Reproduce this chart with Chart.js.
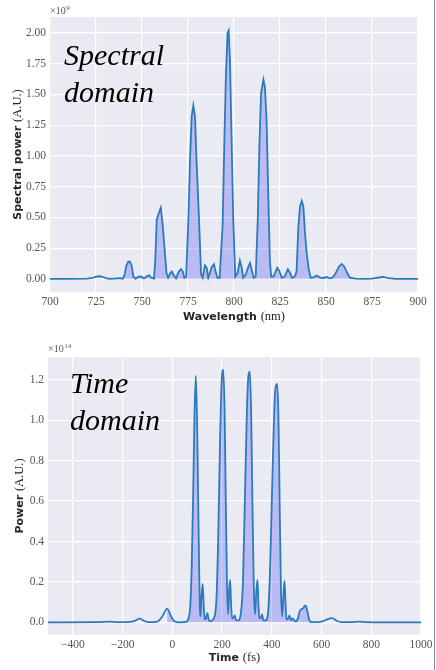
<!DOCTYPE html>
<html>
<head>
<meta charset="utf-8">
<script src="https://cdn.jsdelivr.net/npm/chart.js@4.4.1/dist/chart.umd.min.js"></script>
<style>
  body { margin: 0; background: #fff; width: 436px; height: 670px; position: relative; overflow: hidden; }
  canvas { position: absolute; left: 0; }
  .tag { position: absolute; font: italic 30px "Liberation Serif", serif; line-height: 37px; color: #000; white-space: nowrap; }
  .edge { position: absolute; left: 434px; top: 0; width: 1px; height: 670px; background: #7f8daa; }
</style>
</head>
<body>
<canvas id="spec" width="436" height="330" style="top:0;width:436px;height:330px"></canvas>
<canvas id="time" width="436" height="340" style="top:330px;width:436px;height:340px"></canvas>
<div class="tag" style="left:64px;top:36px">Spectral<br>domain</div>
<div class="tag" style="left:70px;top:364px">Time<br>domain</div>
<div class="edge"></div>
<script>
// Spectral domain: wavelength (nm) vs power (x 1e9 A.U.)
const wavelength = [
  700, 710, 720, 723, 725, 727, 729, 731, 733, 736, 738, 739.5,
  740.5, 741.5, 742.5, 743.5, 744.5, 745.3, 746.5, 748, 749.5, 751, 753, 754, 755, 756.5,
  757.2, 758, 759, 760.2, 761.3, 762.3, 763.3, 764.2, 765.5, 766.2, 767.3, 768.5,
  770, 771.2, 772.2, 773, 774, 775.2, 776.1, 777, 777.9, 778.8, 779.7, 781, 782.1,
  783, 784.2, 785.2, 786, 788, 789.1, 790, 791, 792.2,
  793.8, 794.7, 795.6, 796.5, 797.1, 797.8, 798.7, 799.6, 800.7,
  802, 803.2, 804.1, 805, 806.5, 807.8, 808.7, 809.7, 810.7, 811.8,
  812.9, 813.8, 814.7, 816, 816.8, 817.7, 818.6, 819.5, 820.2,
  821.5, 823.5, 824.5, 826, 827.5, 829.3, 830.5, 831.5, 833, 834,
  835, 835.9, 836.8, 837.7, 838.6, 839.5, 840.6, 841.7,
  843, 845, 847, 848.5, 850.4, 852, 853.5, 855, 857, 858.5, 860, 861.5, 863,
  866, 870, 875, 878, 881, 884, 888, 900
];
const spectralPower = [
  0, 0, 0.002, 0.008, 0.018, 0.022, 0.015, 0.004, 0.001, 0.004, 0.006, 0.002,
  0.03, 0.11, 0.14, 0.14, 0.1, 0.02, 0.002, 0.018, 0.02, 0.004, 0.025, 0.03, 0.01, 0.003,
  0.15, 0.48, 0.53, 0.58, 0.43, 0.24, 0.05, 0.01, 0.05, 0.06, 0.03, 0.005,
  0.06, 0.08, 0.06, 0.01, 0.02, 0.48, 0.97, 1.32, 1.41, 1.32, 0.94, 0.48, 0.04,
  0.01, 0.11, 0.09, 0.01, 0.1, 0.12, 0.06, 0.01, 0.01,
  0.43, 1.08, 1.65, 2.0, 2.02, 1.78, 1.13, 0.48, 0.02,
  0.05, 0.15, 0.1, 0.01, 0.04, 0.1, 0.13, 0.07, 0.01, 0.02,
  0.48, 1.08, 1.51, 1.62, 1.56, 1.29, 0.7, 0.15, 0.02,
  0.02, 0.09, 0.07, 0.01, 0.02, 0.08, 0.05, 0.01, 0.02, 0.06,
  0.43, 0.59, 0.635, 0.59, 0.37, 0.21, 0.08, 0.01,
  0.012, 0.027, 0.01, 0.008, 0.016, 0.005, 0.01, 0.04, 0.1, 0.122, 0.1, 0.05, 0.01,
  0.002, 0.001, 0.002, 0.01, 0.016, 0.006, 0.001, 0
];
const specFillRange = [738, 866];

// Time domain: time (fs) vs power (x 1e14 A.U.)
const timeFs = [
  -500, -300, -250, -220, -170, -150, -131, -115, -95, -60, -40, -21, -5, 10, 30,
  55, 65, 72, 78, 84, 89, 94.5, 100, 104, 108, 111, 113, 117, 122, 126, 130, 135, 141, 146, 152,
  160, 170, 178, 185, 192, 198, 204.5, 210, 215, 220, 224.5, 228.5, 232.5, 236, 240, 245, 251, 256,
  265, 275, 284, 292, 300, 306, 311.8, 317, 322, 328, 333, 338, 342.7, 346, 350, 355, 361, 366,
  375, 385, 394, 403, 410, 415, 421.8, 427, 432, 437, 442, 447, 451, 455, 459, 464, 471, 477, 484, 490, 496,
  505, 512, 518, 526, 532, 536, 542, 550, 560, 600, 625, 643, 660, 680, 720, 750, 780, 850, 1000
];
const timePower = [
  0, 0.001, 0.004, 0.001, 0.002, 0.008, 0.018, 0.008, 0.001, 0.004, 0.03, 0.068, 0.03, 0.004, 0,
  0.002, 0.02, 0.08, 0.28, 0.65, 1.02, 1.22, 0.95, 0.6, 0.25, 0.06, 0.03, 0.12, 0.19, 0.09, 0.015, 0.02, 0.045, 0.015, 0.005,
  0.01, 0.03, 0.13, 0.45, 0.9, 1.18, 1.25, 1.06, 0.6, 0.18, 0.04, 0.16, 0.21, 0.1, 0.02, 0.02, 0.035, 0.01,
  0.01, 0.04, 0.2, 0.62, 1.05, 1.22, 1.24, 1.03, 0.6, 0.15, 0.04, 0.16, 0.21, 0.1, 0.02, 0.02, 0.04, 0.01,
  0.01, 0.05, 0.3, 0.75, 1.05, 1.16, 1.18, 1.0, 0.55, 0.15, 0.03, 0.14, 0.205, 0.1, 0.015, 0.015, 0.035, 0.01, 0.02, 0.01, 0.005,
  0.02, 0.055, 0.064, 0.07, 0.08, 0.084, 0.06, 0.015, 0.001, 0.004, 0.016, 0.021, 0.008, 0.001, 0.001, 0.004, 0.001, 0, 0
];
const timeFillRange = [-30, 570];

const LINE = '#2b7bba';
const FILL = 'rgba(0, 0, 255, 0.2)';
const TICK_FONT = { family: '"Liberation Serif", serif', size: 11.5 };

const plotBg = {
    id: 'plotBg',
    beforeDraw(chart) {
        const { ctx, chartArea: a } = chart;
        ctx.save();
        ctx.fillStyle = '#eaeaf2';
        ctx.fillRect(a.left, a.top, a.width, a.height);
        ctx.restore();
    }
};

function drawParts(ctx, parts, cx, cy) {
    let total = 0;
    parts.forEach(p => { ctx.font = p.f; total += ctx.measureText(p.t).width; });
    let x = cx - total / 2;
    parts.forEach(p => {
        ctx.font = p.f;
        ctx.fillText(p.t, x, cy);
        x += ctx.measureText(p.t).width;
    });
}

// axis titles mix a bold sans word with a serif unit, plus the x10^n offset
const axisText = {
    id: 'axisText',
    afterDraw(chart, args, o) {
        const { ctx, chartArea: a } = chart;
        ctx.save();
        ctx.fillStyle = '#262626';
        ctx.textBaseline = 'middle';
        drawParts(ctx, o.x, (a.left + a.right) / 2, o.xTitleY);
        ctx.save();
        ctx.translate(o.yTitleX, (a.top + a.bottom) / 2);
        ctx.rotate(-Math.PI / 2);
        drawParts(ctx, o.y, 0, 0);
        ctx.restore();
        ctx.textBaseline = 'alphabetic';
        ctx.fillStyle = '#555';
        ctx.font = '10px "Liberation Serif", serif';
        ctx.fillText('\u00d710', a.left, o.expY);
        const w = ctx.measureText('\u00d710').width;
        ctx.font = '7px "Liberation Serif", serif';
        ctx.fillText(o.exp, a.left + w + 0.5, o.expY - 4);
        ctx.restore();
    }
};

function xAxis(min, max, step, height) {
    return {
        type: 'linear', min: min, max: max,
        border: { display: false },
        grid: { color: '#ffffff', lineWidth: 1.2, drawTicks: false },
        ticks: {
            stepSize: step, includeBounds: false, autoSkip: false, maxRotation: 0, padding: 3,
            font: TICK_FONT, color: '#555',
            callback: v => String(v).replace('-', '\u2212')
        },
        afterFit(s) { s.height = height; }
    };
}

function yAxis(min, max, step, decimals, width) {
    return {
        type: 'linear', min: min, max: max,
        border: { display: false },
        grid: { color: '#ffffff', lineWidth: 1.2, drawTicks: false },
        ticks: {
            stepSize: step, includeBounds: false, padding: 4,
            font: TICK_FONT, color: '#555',
            callback: v => v.toFixed(decimals)
        },
        afterFit(s) { s.width = width; }
    };
}

function makeChart(id, xs, ys, fillRange, curve, cfg) {
    const points = xs.map((x, i) => ({ x: x, y: ys[i] }));
    const filled = points.filter(p => p.x >= fillRange[0] && p.x <= fillRange[1]);
    const lineStyle = curve === 'smooth'
        ? { cubicInterpolationMode: 'monotone' }
        : { tension: 0 };
    return new Chart(document.getElementById(id), {
        type: 'line',
        data: {
            datasets: [
                Object.assign({
                    data: points, borderColor: LINE, borderWidth: 1.8,
                    pointRadius: 0, fill: false
                }, lineStyle),
                Object.assign({
                    data: filled, borderWidth: 0, pointRadius: 0,
                    backgroundColor: FILL, fill: 'origin'
                }, lineStyle)
            ]
        },
        options: {
            responsive: false,
            animation: false,
            devicePixelRatio: 1,
            layout: { padding: cfg.padding },
            plugins: {
                legend: { display: false },
                tooltip: { enabled: false },
                axisText: cfg.text
            },
            scales: { x: cfg.x, y: cfg.y }
        },
        plugins: [plotBg, axisText]
    });
}

makeChart('spec', wavelength, spectralPower, specFillRange, 'straight', {
    padding: { left: 0, right: 18, top: 17, bottom: 0 },
    x: xAxis(700, 900, 25, 38),
    y: yAxis(-0.106, 2.13, 0.25, 2, 50),
    text: {
        x: [{ t: 'Wavelength ', f: 'bold 11px "DejaVu Sans", sans-serif' },
            { t: '(nm)', f: '12.5px "Liberation Serif", serif' }],
        y: [{ t: 'Spectral power ', f: 'bold 11px "DejaVu Sans", sans-serif' },
            { t: '(A.U.)', f: '12.5px "Liberation Serif", serif' }],
        xTitleY: 317, yTitleX: 18, expY: 14, exp: '9'
    }
});

makeChart('time', timeFs, timePower, timeFillRange, 'smooth', {
    padding: { left: 0, right: 15, top: 27, bottom: 0 },
    x: xAxis(-500, 1000, 200, 35),
    y: yAxis(-0.0625, 1.3125, 0.2, 1, 48),
    text: {
        x: [{ t: 'Time ', f: 'bold 11px "DejaVu Sans", sans-serif' },
            { t: '(fs)', f: '12.5px "Liberation Serif", serif' }],
        y: [{ t: 'Power ', f: 'bold 11px "DejaVu Sans", sans-serif' },
            { t: '(A.U.)', f: '12.5px "Liberation Serif", serif' }],
        xTitleY: 328, yTitleX: 20, expY: 22, exp: '14'
    }
});
</script>
</body>
</html>
